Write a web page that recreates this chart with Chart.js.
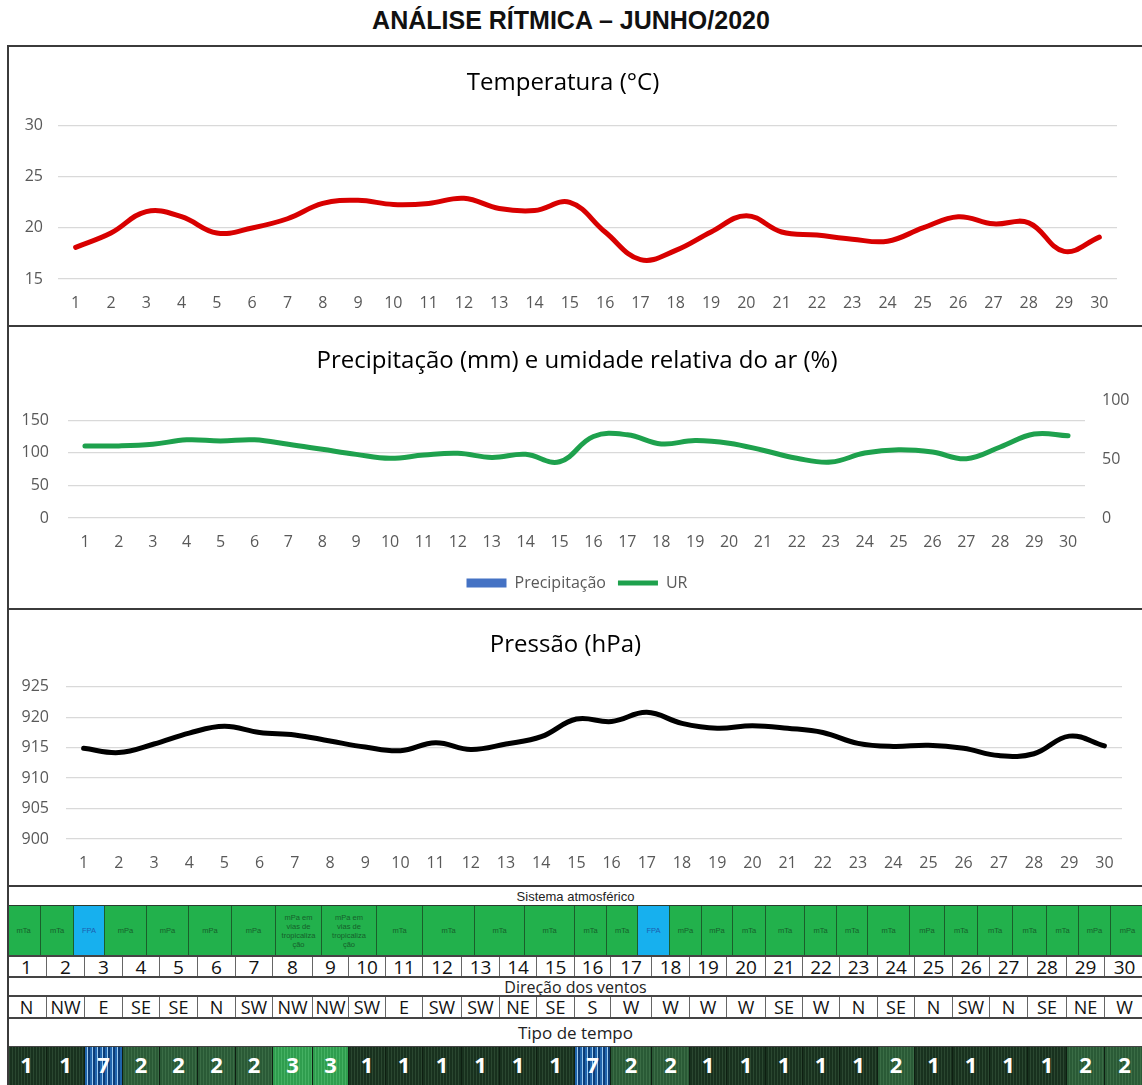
<!DOCTYPE html>
<html lang="pt">
<head>
<meta charset="utf-8">
<title>Análise rítmica – junho/2020</title>
<script src="https://cdn.jsdelivr.net/npm/chart.js@4.4.1/dist/chart.umd.min.js"></script>
<style>
  html, body { margin: 0; padding: 0; background: #fff; }
  body { width: 1142px; height: 1085px; position: relative; overflow: hidden; font-family: "Open Sans", sans-serif; }
  #titulo { position: absolute; left: 0; width: 1142px; top: 6px; text-align: center;
            font: bold 25px "Liberation Sans", Arial, sans-serif; color: #111; }
  .painel { position: absolute; left: 7px; width: 1150px; border: 2px solid #3b3b3b; box-sizing: border-box; }
  .painel canvas { position: absolute; left: 0; top: 0; }
  #tabela { position: absolute; left: 0; top: 885px; width: 1142px; height: 200px; }
  .cel { position: absolute; box-sizing: border-box; display: flex; align-items: center; justify-content: center; text-align: center; }
  .linha { position: absolute; left: 7px; width: 1140px; background: #444; height: 2px; }
</style>
</head>
<body>
<div id="titulo">ANÁLISE RÍTMICA – JUNHO/2020</div>

<div class="painel" style="top:45px;height:282px"><canvas id="cTemp" width="1136" height="278"></canvas></div>
<div class="painel" style="top:325px;height:285px"><canvas id="cPrec" width="1136" height="281"></canvas></div>
<div class="painel" style="top:608px;height:279px"><canvas id="cPres" width="1136" height="275"></canvas></div>
<div id="tabela"></div>

<script>
// Dados
const dias = ["1","2","3","4","5","6","7","8","9","10","11","12","13","14","15",
              "16","17","18","19","20","21","22","23","24","25","26","27","28","29","30"];
const temperatura = [18.1, 19.5, 21.6, 21.1, 19.5, 20.0, 20.9, 22.4, 22.7, 22.3,
                     22.4, 22.9, 21.9, 21.7, 22.5, 19.6, 16.9, 17.8, 19.6, 21.2,
                     19.6, 19.3, 18.9, 18.7, 20.0, 21.1, 20.4, 20.5, 17.7, 19.1];
const precipitacao = [0, 0, 0, 0, 0, 0, 0, 0, 0, 0, 0, 0, 0, 0, 0,
                      0, 0, 0, 0, 0, 0, 0, 0, 0, 0, 0, 0, 0, 0, 0];
const umidade = [61.5, 61.5, 62.9, 66.7, 65.8, 66.7, 62.9, 58.6, 54.3, 50.9,
                 53.7, 55.2, 51.7, 54.3, 48.0, 69.5, 71.0, 63.2, 66.1, 63.8,
                 57.8, 51.0, 47.7, 55.4, 58.3, 56.3, 50.6, 60.6, 71.6, 70.1];
const pressao = [914.9, 914.2, 915.6, 917.4, 918.5, 917.5, 917.1, 916.1, 915.1, 914.5,
                 915.8, 914.7, 915.6, 916.8, 919.7, 919.3, 920.8, 919.0, 918.2, 918.6,
                 918.2, 917.5, 915.7, 915.2, 915.4, 914.9, 913.7, 914.0, 916.9, 915.3];
const sistemas = ["mTa","mTa","FPA","mPa","mPa","mPa","mPa",
                  "mPa em vias de tropicaliza ção","mPa em vias de tropicaliza ção",
                  "mTa","mTa","mTa","mTa","mTa","mTa","FPA","mPa","mPa","mTa","mTa",
                  "mTa","mTa","mTa","mPa","mTa","mTa","mTa","mTa","mPa","mPa"];
const ventos = ["N","NW","E","SE","SE","N","SW","NW","NW","SW",
                "E","SW","SW","NE","SE","S","W","W","W","W",
                "SE","W","N","SE","N","SW","N","SE","NE","W"];
const tiposTempo = [1, 1, 7, 2, 2, 2, 2, 3, 3, 1, 1, 1, 1, 1, 1, 7, 2, 2, 1, 1,
                    1, 1, 1, 2, 1, 1, 1, 1, 2, 2];

// Layout da tabela (bordas das colunas e das linhas, em px)
const bordasSistema = [7, 41, 74, 105, 147, 189, 232, 276, 322, 377, 423, 475, 525, 575, 607,
                       638, 670, 702, 733, 766, 805, 837, 868, 910, 945, 978, 1013, 1047, 1079, 1111, 1145];
const bordasDias = [7, 47, 85, 123, 160, 198, 236, 273, 313, 349, 386, 423, 462, 500, 537, 575,
                    611, 652, 690, 727, 766, 803, 840, 878, 915, 953, 990, 1028, 1067, 1105, 1145];
const yVerde = 905, yDias = 956, yCabVentos = 977, yVentos = 996, yCabTipo = 1018, yTipo = 1047;

const cinzaTexto = "#595959";
const cinzaGrade = "#d9d9d9";
const fonteEixo = { family: "Open Sans", size: 16 };
const fonteTitulo = { family: "Open Sans", size: 24, weight: "normal" };

function eixoX(altura, pad) {
  return {
    offset: true,
    grid: { display: false, drawTicks: false },
    border: { display: false },
    ticks: { color: cinzaTexto, font: fonteEixo, padding: pad, maxRotation: 0, autoSkip: false },
    afterFit: (scale) => { scale.height = altura; }
  };
}

function eixoY(min, max, passo, largura, pad, extra) {
  return Object.assign({
    min: min, max: max,
    grid: { color: cinzaGrade, drawTicks: false, lineWidth: 1.3 },
    border: { display: false },
    ticks: { stepSize: passo, color: cinzaTexto, font: fonteEixo, padding: pad, includeBounds: false },
    afterFit: (scale) => { scale.width = largura; }
  }, extra || {});
}

Chart.defaults.font.family = "Open Sans";

// Temperatura
new Chart(document.getElementById("cTemp"), {
  type: "line",
  data: {
    labels: dias,
    datasets: [{
      label: "Temperatura",
      data: temperatura,
      borderColor: "#d80000",
      borderWidth: 5,
      tension: 0.4,
      pointRadius: 0,
      borderCapStyle: "round"
    }]
  },
  options: {
    responsive: false,
    animation: false,
    devicePixelRatio: 1,
    layout: { padding: { right: 28 } },
    plugins: {
      legend: { display: false },
      tooltip: { enabled: false },
      title: { display: true, text: "Temperatura (°C)", color: "#000", font: fonteTitulo,
               padding: { top: 22, bottom: 28 } }
    },
    scales: {
      x: eixoX(46, 15),
      y: eixoY(15, 30, 5, 49, 15)
    }
  }
});

// Precipitação e umidade relativa
new Chart(document.getElementById("cPrec"), {
  type: "bar",
  data: {
    labels: dias,
    datasets: [{
      type: "line",
      label: "UR",
      data: umidade,
      yAxisID: "y1",
      borderColor: "#1ea14d",
      backgroundColor: "#1ea14d",
      borderWidth: 5,
      tension: 0.4,
      pointRadius: 0,
      borderCapStyle: "round",
      order: 0
    }, {
      label: "Precipitação",
      data: precipitacao,
      yAxisID: "y",
      backgroundColor: "#4472c4",
      order: 1
    }]
  },
  options: {
    responsive: false,
    animation: false,
    devicePixelRatio: 1,
    layout: { padding: { bottom: 7 } },
    plugins: {
      tooltip: { enabled: false },
      title: { display: true, text: "Precipitação (mm) e umidade relativa do ar (%)", color: "#000",
               font: fonteTitulo, padding: { top: 20, bottom: 25 } },
      legend: {
        position: "bottom",
        labels: {
          color: cinzaTexto,
          font: fonteEixo,
          usePointStyle: true,
          pointStyleWidth: 40,
          boxHeight: 9,
          padding: 12,
          generateLabels: (chart) => {
            const ds = chart.data.datasets;
            return [
              { text: ds[1].label, fillStyle: ds[1].backgroundColor, strokeStyle: ds[1].backgroundColor,
                lineWidth: 0, pointStyle: "rect", hidden: false, datasetIndex: 1, fontColor: cinzaTexto },
              { text: ds[0].label, fillStyle: ds[0].borderColor, strokeStyle: ds[0].borderColor,
                lineWidth: 5, pointStyle: "line", hidden: false, datasetIndex: 0, fontColor: cinzaTexto }
            ];
          }
        }
      }
    },
    scales: {
      x: eixoX(45, 15),
      y: eixoY(0, 180, 50, 59, 19),
      y1: eixoY(0, 100, 50, 60, 17, { position: "right", grid: { display: false, drawTicks: false } })
    }
  }
});

// Pressão
new Chart(document.getElementById("cPres"), {
  type: "line",
  data: {
    labels: dias,
    datasets: [{
      label: "Pressão",
      data: pressao,
      borderColor: "#000",
      borderWidth: 5,
      tension: 0.4,
      pointRadius: 0,
      borderCapStyle: "round"
    }]
  },
  options: {
    responsive: false,
    animation: false,
    devicePixelRatio: 1,
    layout: { padding: { right: 23 } },
    plugins: {
      legend: { display: false },
      tooltip: { enabled: false },
      title: { display: true, text: "Pressão (hPa)", color: "#000", font: fonteTitulo,
               padding: { top: 21, bottom: 27 } }
    },
    scales: {
      x: eixoX(46, 15),
      y: eixoY(900, 925, 5, 57, 17)
    }
  }
});

// Tabela inferior
const tabela = document.getElementById("tabela");
const topo = 885;

function celula(x0, x1, y0, y1, html, estilo) {
  const d = document.createElement("div");
  d.className = "cel";
  d.style.left = x0 + "px";
  d.style.width = (x1 - x0) + "px";
  d.style.top = (y0 - topo) + "px";
  d.style.height = (y1 - y0) + "px";
  d.innerHTML = html;
  Object.assign(d.style, estilo || {});
  tabela.appendChild(d);
  return d;
}

function linhaH(y, cor, alt) {
  const l = document.createElement("div");
  l.className = "linha";
  l.style.top = (y - topo) + "px";
  if (cor) l.style.background = cor;
  if (alt) l.style.height = alt + "px";
  tabela.appendChild(l);
}

// cabeçalhos
celula(9, 1142, 887, yVerde, "Sistema atmosférico",
  { font: "13px 'Liberation Sans', Arial, sans-serif", color: "#222" });
celula(9, 1142, yCabVentos, yVentos, "Direção dos ventos",
  { font: "16px 'Open Sans', sans-serif", color: "#222" });
celula(9, 1142, yCabTipo, yTipo, "Tipo de tempo",
  { font: "17px 'Open Sans', sans-serif", color: "#222" });

// sistemas atmosféricos
sistemas.forEach((s, i) => {
  const fpa = s === "FPA";
  celula(bordasSistema[i], bordasSistema[i + 1], yVerde, yDias, s.replace(/ (?=vias|tropic|ção)/g, "<br>"), {
    background: fpa ? "#17b0ee" : "#22b14c",
    color: fpa ? "#1d5fae" : "#16602b",
    font: "7.5px/1.2 'Liberation Sans', Arial, sans-serif",
    borderRight: "1px solid #1b5e2b",
    padding: "0 1px"
  });
});

// dias
dias.forEach((d, i) => {
  celula(bordasDias[i], bordasDias[i + 1], yDias, yCabVentos, d, {
    font: "19px 'Open Sans', sans-serif", color: "#111", borderRight: "1px solid #666"
  });
});

// direção dos ventos
ventos.forEach((v, i) => {
  celula(bordasDias[i], bordasDias[i + 1], yVentos, yCabTipo, v, {
    font: "18px 'Open Sans', sans-serif", color: "#111", borderRight: "1px solid #666"
  });
});

// tipo de tempo
const fundoTipo = {
  1: "repeating-linear-gradient(90deg, #18311e 0 2px, #2a4730 2px 3px)",
  2: "repeating-linear-gradient(90deg, #2a5a36 0 2px, #3a6c45 2px 3px)",
  3: "repeating-linear-gradient(90deg, #2f9d4e 0 2px, #44b062 2px 3px)",
  7: "repeating-linear-gradient(90deg, #1f64ad 0 2px, #9ccbf0 2px 3px, #0d3d78 3px 5px)"
};
tiposTempo.forEach((t, i) => {
  celula(bordasDias[i], bordasDias[i + 1], yTipo, 1092, String(t), {
    background: fundoTipo[t],
    font: "bold 22px 'Open Sans', sans-serif", color: "#fff",
    borderRight: "1px solid #0e1f12", paddingBottom: "12px"
  });
});

// linhas horizontais e borda esquerda
linhaH(yVerde, "#2b3b2e", 1);
linhaH(yDias - 1, "#444", 2);
linhaH(yCabVentos - 1, "#444", 2);
linhaH(yVentos - 1, "#444", 2);
linhaH(yCabTipo - 1, "#444", 2);
linhaH(yTipo - 1, "#444", 1);
const esq = document.createElement("div");
esq.style.cssText = "position:absolute;left:7px;top:0;width:2px;height:200px;background:#3b3b3b";
tabela.appendChild(esq);
</script>
</body>
</html>
